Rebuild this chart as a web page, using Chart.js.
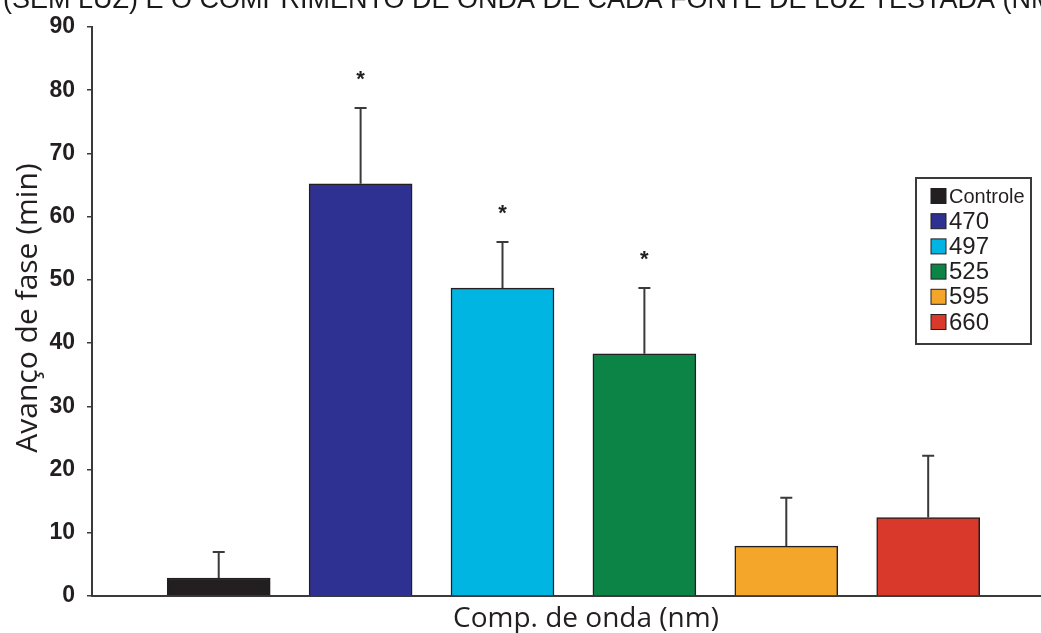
<!DOCTYPE html>
<html>
<head>
<meta charset="utf-8">
<script src="https://cdn.jsdelivr.net/npm/chart.js@4.4.1/dist/chart.umd.min.js"></script>
<style>
  html, body { margin: 0; padding: 0; background: #ffffff; }
  #wrap { width: 1041px; height: 633px; position: relative; }
</style>
</head>
<body>
<div id="wrap"><canvas id="chart" width="1041" height="633"></canvas></div>
<script>
// Phase advance (min) per light wavelength, mean with upper error
const categories = ['Controle', '470', '497', '525', '595', '660'];
const means      = [2.85, 65.2, 48.7, 38.3, 7.9, 12.4];
const errorsUp   = [4.1, 12.0, 7.3, 10.4, 7.65, 9.8];
const significant = [false, true, true, true, false, false];
const yTickValues = [0, 10, 20, 30, 40, 50, 60, 70, 80, 90];
const barColors  = ['#231f20', '#2e3192', '#00b5e2', '#0b8445', '#f4a62a', '#d8392b'];

const headerText = '(SEM LUZ) E O COMPRIMENTO DE ONDA DE CADA FONTE DE LUZ TESTADA (NM)';
const yTitle = 'Avanço de fase (min)';
const xTitle = 'Comp. de onda (nm)';

const ink = '#231f20';
const axisInk = '#3a3a3a';

const datasets = categories.map((name, i) => ({
  label: name,
  data: [{ x: i + 1, y: means[i] }],
  backgroundColor: barColors[i],
  borderColor: ink,
  borderWidth: 1.5,
  barThickness: 103,
  grouped: false
}));

// Upper error whiskers and significance stars
const errorBarPlugin = {
  id: 'errorBars',
  afterDatasetsDraw(chart) {
    const { ctx, scales: { x, y } } = chart;
    ctx.save();
    ctx.strokeStyle = axisInk;
    ctx.lineWidth = 2;
    categories.forEach((c, i) => {
      const cx = x.getPixelForValue(i + 1);
      const yTop = y.getPixelForValue(means[i]);
      const yErr = y.getPixelForValue(means[i] + errorsUp[i]);
      ctx.beginPath();
      ctx.moveTo(cx, yTop);
      ctx.lineTo(cx, yErr);
      ctx.moveTo(cx - 6, yErr);
      ctx.lineTo(cx + 6, yErr);
      ctx.stroke();
      if (significant[i]) {
        ctx.fillStyle = ink;
        ctx.font = 'bold 22px "Liberation Sans", Arial, sans-serif';
        ctx.textAlign = 'center';
        ctx.textBaseline = 'alphabetic';
        ctx.fillText('*', cx, yErr - 22);
      }
    });
    ctx.restore();
  }
};

// Axis titles, clipped header line and boxed legend
const decorPlugin = {
  id: 'decor',
  afterDraw(chart) {
    const { ctx } = chart;
    ctx.save();
    ctx.fillStyle = '#1a1a1a';
    ctx.font = '27px "Liberation Sans", Arial, sans-serif';
    ctx.textAlign = 'left';
    ctx.textBaseline = 'alphabetic';
    ctx.fillText(headerText, 3, 8);

    ctx.fillStyle = ink;
    ctx.font = '28px "Open Sans", sans-serif';
    ctx.textAlign = 'center';
    ctx.fillText(xTitle, 586, 627);

    ctx.save();
    ctx.translate(37, 308);
    ctx.rotate(-Math.PI / 2);
    ctx.font = '30px "Open Sans", sans-serif';
    ctx.fillText(yTitle, 0, 0);
    ctx.restore();

    // legend
    const bx = 916, by = 178, bw = 115, bh = 166;
    ctx.fillStyle = '#ffffff';
    ctx.fillRect(bx, by, bw, bh);
    ctx.strokeStyle = axisInk;
    ctx.lineWidth = 2;
    ctx.strokeRect(bx, by, bw, bh);
    chart.data.datasets.forEach((ds, i) => {
      const cy = 196 + i * 25.2;
      ctx.fillStyle = ds.backgroundColor;
      ctx.fillRect(931, cy - 7.5, 15, 15);
      ctx.strokeStyle = ink;
      ctx.lineWidth = 1;
      ctx.strokeRect(931, cy - 7.5, 15, 15);
      ctx.fillStyle = ink;
      ctx.textAlign = 'left';
      ctx.textBaseline = 'middle';
      ctx.font = (i === 0 ? '20px' : '24px') + ' "Liberation Sans", Arial, sans-serif';
      ctx.fillText(ds.label, 949, cy + 1);
    });
    ctx.restore();
  }
};

new Chart(document.getElementById('chart'), {
  type: 'bar',
  data: { datasets },
  plugins: [errorBarPlugin, decorPlugin],
  options: {
    responsive: false,
    animation: false,
    layout: { padding: { top: 27, right: 1, left: 0, bottom: 0 } },
    plugins: { legend: { display: false }, tooltip: { enabled: false }, title: { display: false } },
    scales: {
      x: {
        type: 'linear',
        offset: false,
        min: 0.107,
        max: 6.788,
        grid: { display: false },
        ticks: { display: false },
        border: { display: true, color: axisInk, width: 2 },
        afterFit(scale) { scale.height = 37; }
      },
      y: {
        min: 0,
        max: 90,
        afterBuildTicks(scale) { scale.ticks = yTickValues.map(v => ({ value: v })); },
        grid: { display: true, drawOnChartArea: false, drawTicks: true, tickLength: 5, color: axisInk, lineWidth: 1.5 },
        border: { display: true, color: axisInk, width: 2 },
        ticks: {
          color: ink,
          padding: 12,
          font: { family: '"Liberation Sans", Arial, sans-serif', size: 23, weight: 'bold' }
        },
        afterFit(scale) { scale.width = 92; }
      }
    }
  }
});
</script>
</body>
</html>
